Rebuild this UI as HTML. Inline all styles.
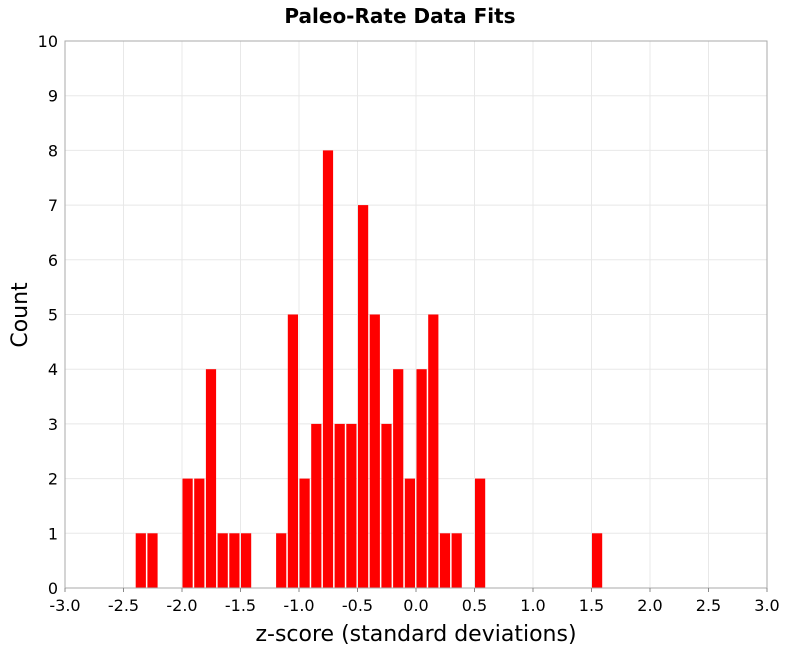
<!DOCTYPE html>
<html><head><meta charset="utf-8"><style>
body{margin:0;background:#fff;font-family:"DejaVu Sans","Liberation Sans",sans-serif}
</style></head><body>
<svg width="800" height="650" xmlns="http://www.w3.org/2000/svg">
<text x="400" y="23" text-anchor="middle" font-size="20" font-weight="bold" font-family="DejaVu Sans, sans-serif">Paleo-Rate Data Fits</text>
<g id="grid"></g>
<g id="bars"></g>
<rect x="65" y="41" width="702" height="547" fill="none" stroke="#aaa"/>
<g id="xt"></g>
<g id="yt"></g>
<text x="416" y="641" text-anchor="middle" font-size="22">z-score (standard deviations)</text>
<text transform="translate(27,315) rotate(-90)" text-anchor="middle" font-size="22">Count</text>
</svg>
<script>
const binStarts=[-2.4,-2.3,-2.0,-1.9,-1.8,-1.7,-1.6,-1.5,-1.2,-1.1,-1.0,-0.9,-0.8,-0.7,-0.6,-0.5,-0.4,-0.3,-0.2,-0.1,0.0,0.1,0.2,0.3,0.5,1.5];
const counts=[1,1,2,2,4,1,1,1,1,5,2,3,8,3,3,7,5,3,4,2,4,5,1,1,2,1];
const xTicks=["-3.0","-2.5","-2.0","-1.5","-1.0","-0.5","0.0","0.5","1.0","1.5","2.0","2.5","3.0"];
const yTicks=[0,1,2,3,4,5,6,7,8,9,10];
const binWidth=0.1;
const X=v=>65+(v+3)/6*702, Y=v=>588-v/10*547;
const NS="http://www.w3.org/2000/svg";
function mk(t,a,p){const e=document.createElementNS(NS,t);for(const k in a)e.setAttribute(k,a[k]);p.appendChild(e);return e;}
const grid=document.getElementById('grid'),bars=document.getElementById('bars'),xt=document.getElementById('xt'),yt=document.getElementById('yt');
xTicks.forEach(s=>{const v=parseFloat(s),x=X(v);
const l=mk('line',{x1:x,x2:x,y1:41,y2:588,stroke:'#e8e8e8'},grid);


const tk=mk('line',{x1:x,x2:x,y1:588,y2:592,stroke:'#888'},xt);


const t=mk('text',{x:x,y:611,'text-anchor':'middle','font-size':16},xt);t.textContent=s;

});
yTicks.forEach(v=>{const y=Y(v);
const l=mk('line',{x1:65,x2:767,y1:y,y2:y,stroke:'#e8e8e8'},grid);


const t=mk('text',{x:58,y:y+6,'text-anchor':'end','font-size':16},yt);t.textContent=v;

});
binStarts.forEach((b,i)=>{const x0=X(b),x1=X(b+binWidth);
const r=mk('rect',{x:x0+0.5,y:Y(counts[i]),width:x1-x0-1.5,height:Y(0)-Y(counts[i]),fill:'#ff0000'},bars);

});
</script>
</body></html>
